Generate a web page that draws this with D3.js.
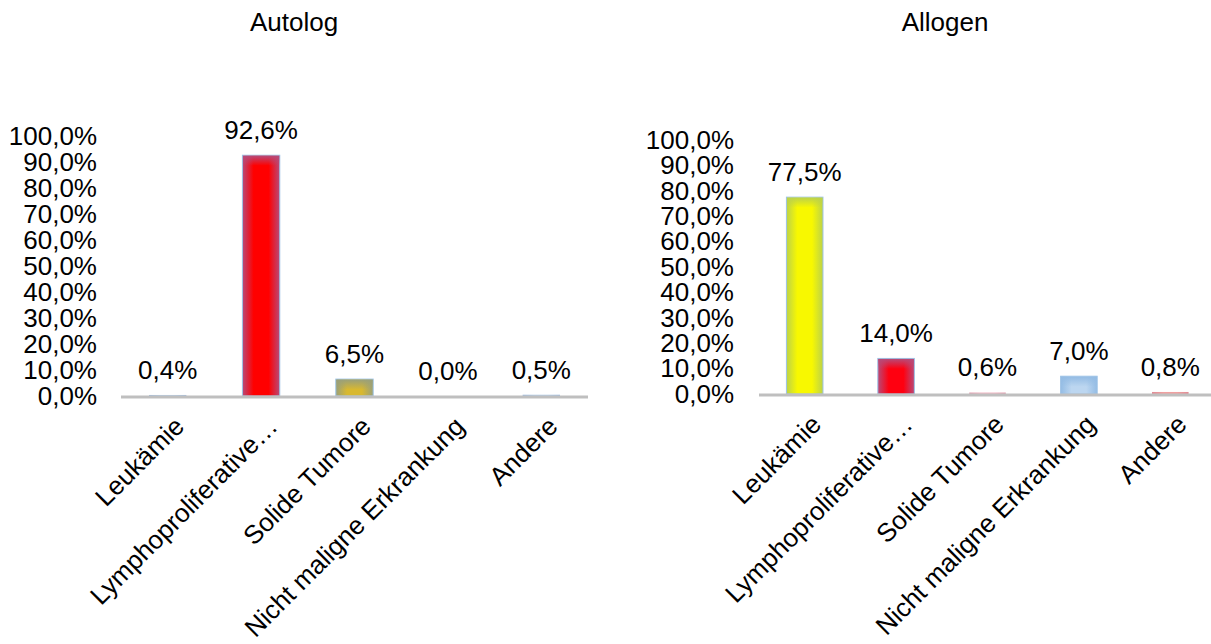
<!DOCTYPE html>
<html>
<head>
<meta charset="utf-8">
<script src="https://cdn.jsdelivr.net/npm/d3@7"></script>
<style>
  html, body { margin: 0; padding: 0; background: #ffffff; }
  svg text { font-family: "Liberation Sans", Arial, sans-serif; fill: #000; }
</style>
</head>
<body>
<svg id="chart" width="1211" height="644"></svg>
<script>
// ---- data ----
const categories = ["Leukämie", "Lymphoproliferative Erkrankung", "Solide Tumore", "Nicht maligne Erkrankung", "Andere"];
const categoryLabels = ["Leukämie", "Lymphoproliferative…", "Solide Tumore", "Nicht maligne Erkrankung", "Andere"];
const autologValues = [0.4, 92.6, 6.5, 0.0, 0.5];
const allogenValues = [77.5, 14.0, 0.6, 7.0, 0.8];
const yTickValues = [0, 10, 20, 30, 40, 50, 60, 70, 80, 90, 100];
const chartTitles = ["Autolog", "Allogen"];
// colors: [center, edge]
const autologColors = [["#b4cce6", "#9dbbe0"], ["#ff0000", "#b84a78"], ["#d8b830", "#9aa07a"], ["#b4cce6", "#9dbbe0"], ["#b4cce6", "#9dbbe0"]];
const allogenColors = [["#f8f800", "#bcd24a"], ["#ff0010", "#b84a78"], ["#f0b8c4", "#e0a0b0"], ["#bcd6f0", "#94bce4"], ["#f0a0a0", "#e08a94"]];

const fmt = v => d3.format(".1f")(v).replace(".", ",") + "%";
const FS = "26px";

const svg = d3.select("#chart");
const defs = svg.append("defs");

const panels = [
  { title: chartTitles[0], values: autologValues, colors: autologColors,
    x0: 121, x1: 588, y0: 396, y1: 136, lineEnd: 588, tickPad: 24, titleX: 294, id: "a" },
  { title: chartTitles[1], values: allogenValues, colors: allogenColors,
    x0: 759, x1: 1216, y0: 394, y1: 140, lineEnd: 1216, tickPad: 25, titleX: 945, id: "b" }
];

panels.forEach(p => {
  const g = svg.append("g");
  const x = d3.scaleBand().domain(categories).range([p.x0, p.x1]).paddingInner(0.6).paddingOuter(0.3);
  const y = d3.scaleLinear().domain([0, 100]).range([p.y0, p.y1]);

  // title
  g.append("text").attr("x", p.titleX).attr("y", 31)
    .attr("text-anchor", "middle").style("font-size", FS).text(p.title);

  // y axis (labels only)
  const yAxis = d3.axisLeft(y).tickValues(yTickValues).tickSize(0).tickPadding(p.tickPad).tickFormat(fmt);
  const ya = g.append("g").attr("transform", `translate(${p.x0},0)`).call(yAxis);
  ya.select(".domain").remove();
  ya.selectAll("text").style("font-size", FS).attr("fill", "#000")
    .attr("font-family", '"Liberation Sans", Arial, sans-serif');

  // gradients
  p.colors.forEach((c, i) => {
    const gr = defs.append("linearGradient").attr("id", `g${p.id}${i}`)
      .attr("x1", "0").attr("x2", "1").attr("y1", "0").attr("y2", "0");
    gr.append("stop").attr("offset", "0%").attr("stop-color", c[1]);
    gr.append("stop").attr("offset", "30%").attr("stop-color", c[0]);
    gr.append("stop").attr("offset", "70%").attr("stop-color", c[0]);
    gr.append("stop").attr("offset", "100%").attr("stop-color", c[1]);
    const gv = defs.append("linearGradient").attr("id", `v${p.id}${i}`)
      .attr("x1", "0").attr("x2", "0").attr("y1", "0").attr("y2", "1");
    gv.append("stop").attr("offset", "0%").attr("stop-color", c[1]).attr("stop-opacity", 1);
    gv.append("stop").attr("offset", "100%").attr("stop-color", c[1]).attr("stop-opacity", 0);
  });

  // bars
  const data = categories.map((c, i) => ({ c, v: p.values[i], i }));
  g.selectAll("rect.bar").data(data.filter(d => d.v > 0)).join("rect")
    .attr("class", "bar")
    .attr("x", d => x(d.c))
    .attr("width", x.bandwidth())
    .attr("y", d => y(d.v))
    .attr("height", d => y(0) - y(d.v))
    .attr("fill", d => `url(#g${p.id}${d.i})`)
    .attr("stroke", d => d.v > 2 ? "#9dc3e6" : "none")
    .attr("stroke-width", 1);
  g.selectAll("rect.topfade").data(data.filter(d => d.v > 2)).join("rect")
    .attr("class", "topfade")
    .attr("x", d => x(d.c) + 0.5)
    .attr("width", x.bandwidth() - 1)
    .attr("y", d => y(d.v) + 0.5)
    .attr("height", d => Math.min(10, y(0) - y(d.v) - 1))
    .attr("fill", d => `url(#v${p.id}${d.i})`);

  // x axis
  const xAxis = d3.axisBottom(x).tickSize(0).tickFormat((d, i) => categoryLabels[i]);
  const xa = g.append("g").attr("transform", `translate(0,${p.y0 + 1})`).call(xAxis);
  xa.select(".domain").attr("stroke", "#bfbfbf").attr("stroke-width", 3)
    .attr("d", `M${p.x0},0H${p.lineEnd}`);
  xa.selectAll("text")
    .attr("y", null).attr("dy", null).attr("x", null)
    .attr("text-anchor", "end")
    .attr("transform", "translate(18,31) rotate(-45)")
    .attr("fill", "#000")
    .attr("font-family", '"Liberation Sans", Arial, sans-serif')
    .style("font-size", FS);

  // data labels
  g.selectAll("text.val").data(data).join("text")
    .attr("class", "val")
    .attr("x", d => x(d.c) + x.bandwidth() / 2)
    .attr("y", d => y(d.v) - 16)
    .attr("text-anchor", "middle")
    .style("font-size", FS)
    .text(d => fmt(d.v));
});
</script>
</body>
</html>
